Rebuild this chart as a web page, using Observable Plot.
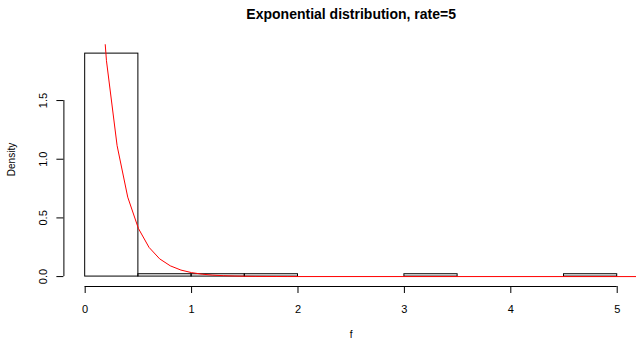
<!DOCTYPE html>
<html>
<head>
<meta charset="utf-8">
<script src="https://cdn.jsdelivr.net/npm/d3@7"></script>
<script src="https://cdn.jsdelivr.net/npm/@observablehq/plot@0.6"></script>
<style>
  html, body { margin: 0; padding: 0; background: #fff; }
</style>
</head>
<body>
<div id="chart"></div>
<script>
// Histogram of f (density scale), bins of width 0.5
const binStart = [0, 0.5, 1, 1.5, 2, 2.5, 3, 3.5, 4, 4.5];
const binEnd   = [0.5, 1, 1.5, 2, 2.5, 3, 3.5, 4, 4.5, 5];
const density  = [1.9, 0.02, 0.02, 0.02, 0, 0, 0.02, 0, 0, 0.02];

// Exponential density, rate = 5, overlaid in red
const curveX = [0, 0.1, 0.2, 0.3, 0.4, 0.5, 0.6, 0.7, 0.8, 0.9, 1.0,
                1.1, 1.2, 1.3, 1.4, 1.5, 1.6, 1.7, 1.8, 1.9, 2.0, 5.3];
const curveY = [5.0, 3.0327, 1.8394, 1.1157, 0.6767, 0.4104, 0.2489, 0.1510,
                0.0916, 0.0555, 0.0337, 0.0204, 0.0124, 0.0075, 0.0046, 0.0028,
                0.0017, 0.0010, 0.0006, 0.0004, 0.0002, 0];

// Axis ticks
const xTicks = [0, 1, 2, 3, 4, 5];
const yTicks = [0, 0.5, 1, 1.5];

const titleText = "Exponential distribution, rate=5";
const xLabel = "f";
const yLabel = "Density";

const bins = binStart.map((s, i) => ({x1: s, x2: binEnd[i], y: density[i]}));
const curve = curveX.map((x, i) => ({x, y: curveY[i]}));

const xDomain = [-0.2, 5.2];
const yDomain = [-0.076, 1.976];

const chart = Plot.plot({
  width: 636,
  height: 339,
  marginLeft: 63.4,
  marginRight: 0,
  marginTop: 44.2,
  marginBottom: 54,
  style: {fontFamily: "'Liberation Sans', Arial, Helvetica, sans-serif", fontSize: "11px", background: "#fff", color: "#000"},
  x: {domain: xDomain, range: [63.4, 638]},
  y: {domain: yDomain},
  marks: [
    Plot.rect(bins, {x1: "x1", x2: "x2", y1: 0, y2: "y", fill: "none", stroke: "#000", strokeWidth: 1}),
    Plot.line(curve, {x: "x", y: "y", stroke: "red", strokeWidth: 1, clip: true}),
    // x axis: line spans the tick range
    Plot.ruleY([yDomain[0]], {x1: xTicks[0], x2: xTicks[xTicks.length - 1], stroke: "#000", dy: 1}),
    Plot.axisX(xTicks, {tickSize: 7, tickPadding: 12, label: null, dy: 1, fontSize: 11}),
    // y axis: line spans the tick range, labels rotated
    Plot.ruleX([xDomain[0]], {y1: yTicks[0], y2: yTicks[yTicks.length - 1], stroke: "#000"}),
    Plot.axisY(yTicks, {tickSize: 7, tickFormat: () => "", label: null}),
    Plot.text(yTicks, {y: d => d, frameAnchor: "left", dx: -20.7, rotate: -90, text: d => d3.format(".1f")(d),
      textAnchor: "middle", lineAnchor: "middle", fontSize: 11}),
    Plot.text([yLabel], {frameAnchor: "left", dx: -52.4, dy: -5.6, rotate: -90, textAnchor: "middle", lineAnchor: "middle", fontSize: 10}),
    Plot.text([xLabel], {frameAnchor: "bottom", dx: 1, dy: 49, lineAnchor: "middle", fontSize: 10}),
    Plot.text([titleText], {frameAnchor: "top", dx: 1, dy: -30.2, lineAnchor: "middle", fontSize: 14, fontWeight: "bold"})
  ]
});

document.getElementById("chart").appendChild(chart);
</script>
</body>
</html>
